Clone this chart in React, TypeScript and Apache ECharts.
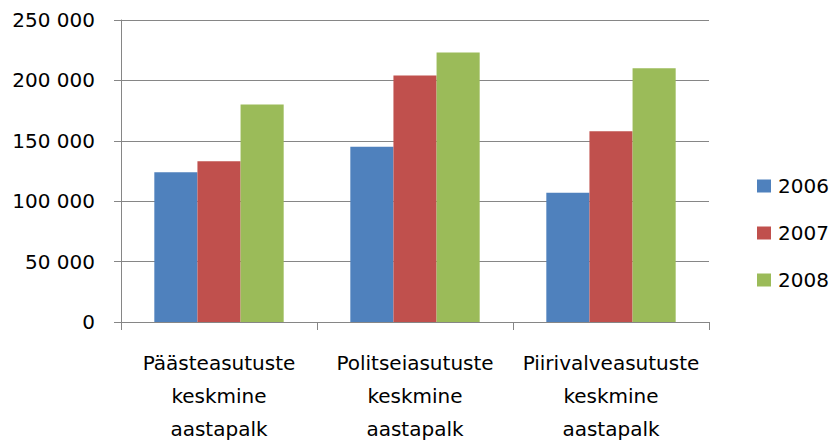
import React, { useEffect, useRef } from "react";
import * as echarts from "echarts";

const categories = [
  "Päästeasutuste\nkeskmine\naastapalk",
  "Politseiasutuste\nkeskmine\naastapalk",
  "Piirivalveasutuste\nkeskmine\naastapalk",
];
const seriesNames = ["2006", "2007", "2008"];
const values2006 = [124000, 145000, 107000];
const values2007 = [133000, 204000, 158000];
const values2008 = [180000, 223000, 210000];
const colors = ["#4F81BD", "#C0504D", "#9BBB59"];

const FONT = "'DejaVu Sans', sans-serif";

function fmt(v: number): string {
  return String(v).replace(/\B(?=(\d{3})+(?!\d))/g, " ");
}

export default function App() {
  const ref = useRef<HTMLDivElement>(null);
  useEffect(() => {
    document.body.style.margin = "0";
    if (!ref.current) return;
    const chart = echarts.init(ref.current, undefined, { renderer: "svg" });
    const data = [values2006, values2007, values2008];
    chart.setOption({
      animation: false,
      textStyle: { fontFamily: FONT },
      grid: { left: 121, right: 127, top: 20, bottom: 126, containLabel: false },
      legend: {
        orient: "vertical",
        left: 752,
        top: 171,
        itemWidth: 14,
        itemHeight: 13,
        itemGap: 27,
        icon: "rect",
        textStyle: {
          fontFamily: FONT,
          fontSize: 20,
          lineHeight: 20,
          color: "#000",
          padding: [0, 0, 0, 2],
        },
        data: seriesNames,
      },
      xAxis: {
        type: "category",
        data: categories,
        axisLine: { show: true, lineStyle: { color: "#868686", width: 1 } },
        axisTick: { show: true, length: 8, lineStyle: { color: "#868686" } },
        axisLabel: {
          interval: 0,
          margin: 24,
          color: "#000",
          fontFamily: FONT,
          fontSize: 20,
          lineHeight: 33,
        },
      },
      yAxis: {
        type: "value",
        min: 0,
        max: 250000,
        interval: 50000,
        axisLine: { show: true, lineStyle: { color: "#868686", width: 1 } },
        axisTick: { show: true, length: 7, lineStyle: { color: "#868686" } },
        splitLine: { show: true, lineStyle: { color: "#868686", width: 1 } },
        axisLabel: {
          margin: 26,
          color: "#000",
          fontFamily: FONT,
          fontSize: 20,
          formatter: (v: number) => fmt(v),
        },
      },
      series: seriesNames.map((name, i) => ({
        name,
        type: "bar",
        data: data[i],
        barGap: "0%",
        barCategoryGap: "34%",
        itemStyle: { color: colors[i] },
      })),
    });
    return () => chart.dispose();
  }, []);
  return <div ref={ref} style={{ width: 836, height: 448 }} />;
}
